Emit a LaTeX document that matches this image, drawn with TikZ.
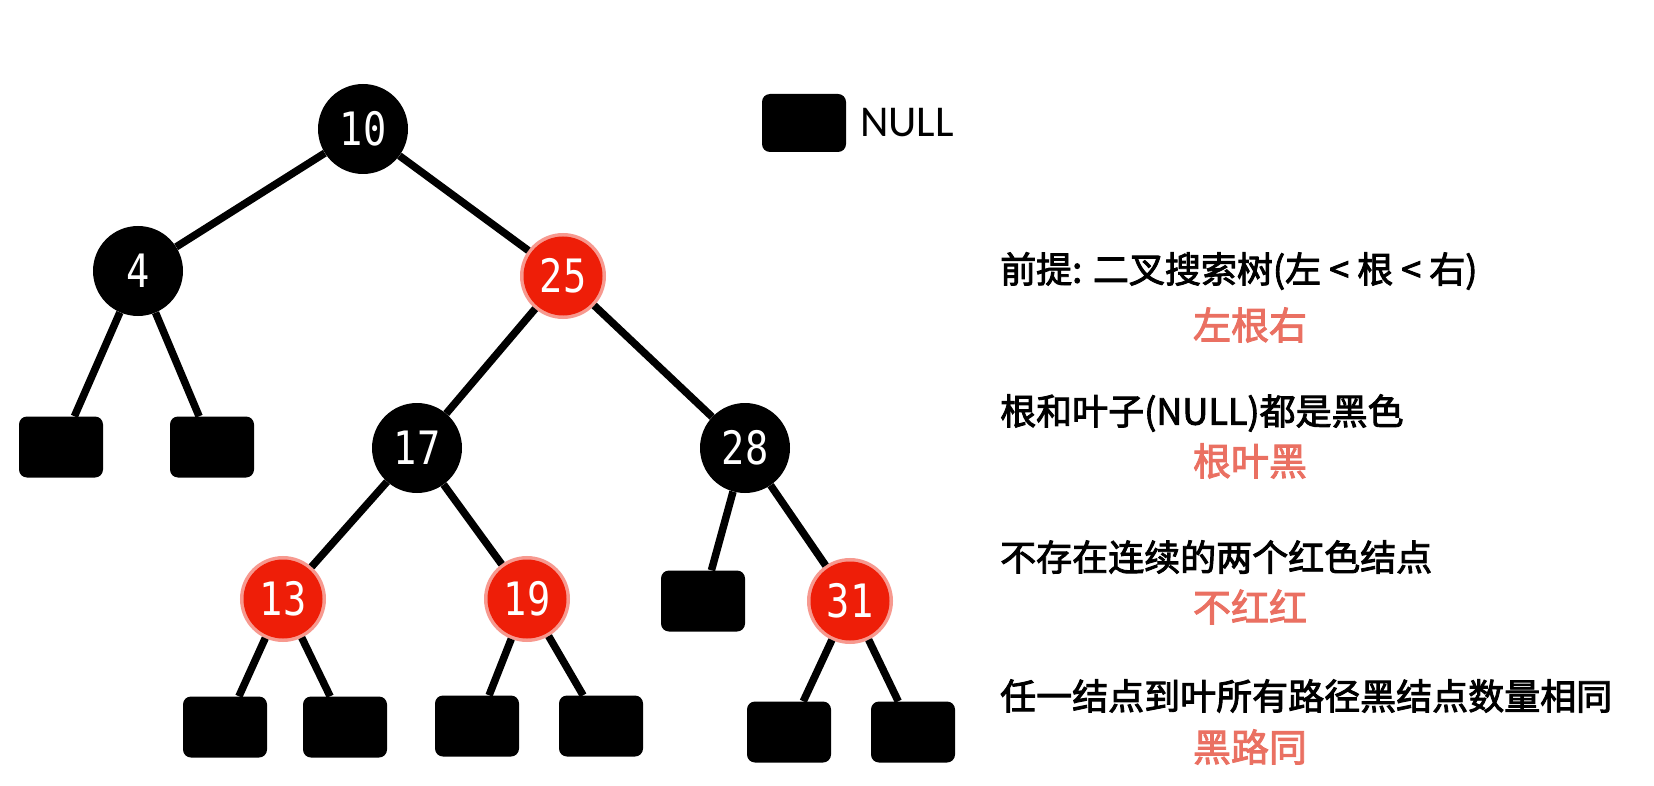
\documentclass[tikz,border=0pt]{standalone}
\usepackage{fontspec}
\setmainfont{Carlito}
\newfontfamily\cjk[FakeBold=2.5]{Noto Sans CJK SC}
\newfontfamily\digits{DejaVu Sans Mono}
\usepackage{xcolor}
\usepackage{tikz}
\definecolor{nodered}{RGB}{238,30,8}
\definecolor{notered}{RGB}{234,112,98}
\newcommand{\nodenum}[1]{\scalebox{0.84}[1]{#1}}

\tikzset{
  blk/.style={circle,fill=black,inner sep=0pt,minimum size=90pt,text=white,
    font=\digits\fontsize{46}{46}\selectfont},
  rd/.style={blk,fill=nodered,minimum size=79pt,draw=nodered,draw opacity=0.45,line width=7pt},
  nil/.style={rectangle,rounded corners=8pt,fill=black,minimum width=84pt,minimum height=61pt,inner sep=0pt},
  link/.style={line width=7.5pt},
  memo/.style={anchor=west,inner sep=0pt,font=\cjk\fontsize{36}{40}\selectfont},
  hint/.style={inner sep=0pt,text=notered,font=\cjk\fontsize{38}{42}\selectfont}
}

\begin{document}
\begin{tikzpicture}[x=1pt,y=-1pt]
  \useasboundingbox[fill=white] (0,0) rectangle (1654,786);
  % tree nodes
  \node[blk] (n10) at (363,129) {\nodenum{10}};
  \node[blk] (n4) at (138,271) {\nodenum{4}};
  \node[rd] (n25) at (563,276) {\nodenum{25}};
  \node[blk] (n17) at (417,448) {\nodenum{17}};
  \node[blk] (n28) at (745,448) {\nodenum{28}};
  \node[rd] (n13) at (283,599) {\nodenum{13}};
  \node[rd] (n19) at (527,599) {\nodenum{19}};
  \node[rd] (n31) at (850,601) {\nodenum{31}};
  % NULL leaves
  \node[nil] (l1) at (61,447) {};
  \node[nil] (l2) at (212,447) {};
  \node[nil] (l3) at (703,601) {};
  \node[nil] (l4) at (225,727) {};
  \node[nil] (l5) at (345,727) {};
  \node[nil] (l6) at (477,726) {};
  \node[nil] (l7) at (601,726) {};
  \node[nil] (l8) at (789,732) {};
  \node[nil] (l9) at (913,732) {};
  \draw[link] (n10) -- (n4);
  \draw[link] (n10) -- (n25);
  \draw[link] (n4) -- (l1);
  \draw[link] (n4) -- (l2);
  \draw[link] (n25) -- (n17);
  \draw[link] (n25) -- (n28);
  \draw[link] (n17) -- (n13);
  \draw[link] (n17) -- (n19);
  \draw[link] (n28) -- (l3);
  \draw[link] (n28) -- (n31);
  \draw[link] (n13) -- (l4);
  \draw[link] (n13) -- (l5);
  \draw[link] (n19) -- (l6);
  \draw[link] (n19) -- (l7);
  \draw[link] (n31) -- (l8);
  \draw[link] (n31) -- (l9);
  % legend
  \node[nil,minimum height=58pt] (key) at (804,123) {};
  \node[anchor=west,inner sep=0pt,font=\fontsize{44}{44}\selectfont] (keytxt) at (860,123) {NULL};
  % rules
  \node[memo] (r1) at (1000,271) {前提: 二叉搜索树(左 < 根 < 右)};
  \node[hint] (h1) at (1250,325) {左根右};
  \node[memo] (r2) at (1000,413) {根和叶子(NULL)都是黑色};
  \node[hint] (h2) at (1250,461) {根叶黑};
  \node[memo] (r3) at (1000,557) {不存在连续的两个红色结点};
  \node[hint] (h3) at (1250,607) {不红红};
  \node[memo] (r4) at (1000,696) {任一结点到叶所有路径黑结点数量相同};
  \node[hint] (h4) at (1250,747) {黑路同};
\end{tikzpicture}
\end{document}
